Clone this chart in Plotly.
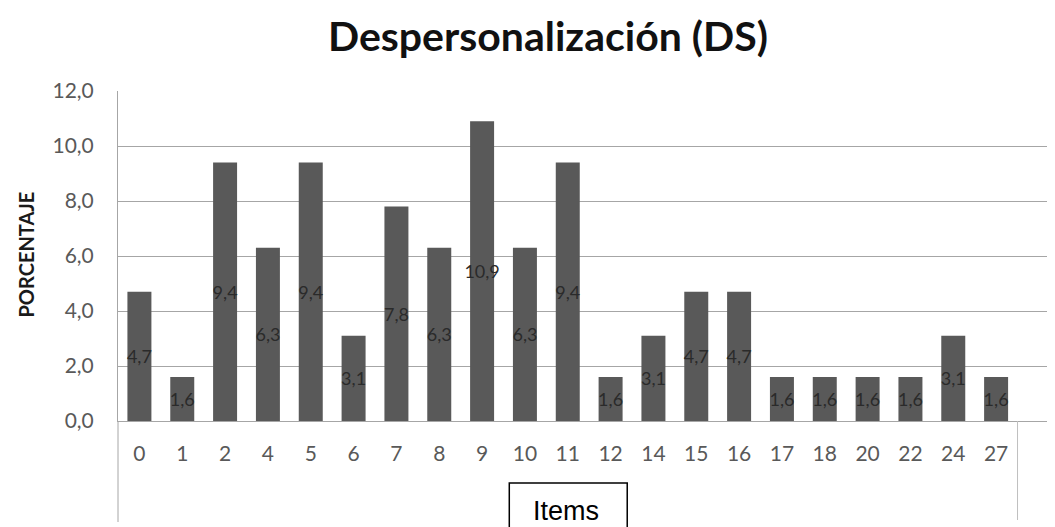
import plotly.graph_objects as go

categories = ["0", "1", "2", "4", "5", "6", "7", "8", "9", "10", "11",
              "12", "14", "15", "16", "17", "18", "20", "22", "24", "27"]
values = [4.7, 1.6, 9.4, 6.3, 9.4, 3.1, 7.8, 6.3, 10.9, 6.3, 9.4,
          1.6, 3.1, 4.7, 4.7, 1.6, 1.6, 1.6, 1.6, 3.1, 1.6]
y_ticks = [0, 2, 4, 6, 8, 10, 12]

title_text = "Despersonalización (DS)"
y_title = "PORCENTAJE"
x_title = "Items"

# the page body adds an 8px offset; size the figure so the window shows it all
OFF = 8
W, H = 1055 - OFF, 527 - OFF
AX_L, AX_R, AX_T, AX_B = 117.5, 1055, 91, 421   # window pixel positions
L, R, T, B = AX_L - OFF, 0, AX_T - OFF, H - (AX_B - OFF)

FONT = "Lato, Noto Sans, sans-serif"

fig = go.Figure()
fig.add_trace(go.Bar(
    x=categories, y=values,
    marker=dict(color="#595959", line=dict(width=0)),
    width=0.56,
    texttemplate="%{y:.1f}",
    textposition="inside",
    insidetextanchor="middle",
    constraintext="none",
    textangle=0,
    textfont=dict(family=FONT, size=18, color="#2a2a2a"),
    cliponaxis=False,
))

def px_x(px):
    return (px - AX_L) / (AX_R - AX_L)

def px_y(py):
    return (AX_B - py) / (AX_B - AX_T)

cat_w = (1017.5 - AX_L) / 21

fig.update_layout(
    width=W, height=H,
    margin=dict(l=L, r=R, t=T, b=B, autoexpand=False),
    paper_bgcolor="white", plot_bgcolor="white",
    separators=",.",
    showlegend=False,
    title=dict(text="<b>" + title_text + "</b>", x=(548 - OFF) / W, xanchor="center",
               y=1 - (37 - OFF) / H, yanchor="middle",
               font=dict(family=FONT, size=41, color="#111111")),
    xaxis=dict(type="category", range=[-0.5, -0.5 + (AX_R - AX_L) / cat_w],
               showgrid=False, showline=True, linecolor="#a6a6a6", linewidth=1,
               ticks="", ticklabelstandoff=14, automargin=False,
               tickfont=dict(family=FONT, size=21, color="#595959"),
               zeroline=False),
    yaxis=dict(range=[0, 12], tickvals=y_ticks, tickformat=".1f",
               showgrid=True, gridcolor="#a6a6a6", gridwidth=1,
               showline=True, linecolor="#a6a6a6", linewidth=1,
               ticks="", ticklabelstandoff=19, automargin=False,
               tickfont=dict(family=FONT, size=21, color="#595959"),
               zeroline=False),
    annotations=[
        dict(text="<b>" + y_title + "</b>", xref="paper", yref="paper",
             x=px_x(25), y=px_y(255), xanchor="center", yanchor="middle",
             textangle=-90, showarrow=False,
             font=dict(family=FONT, size=20, color="#1a1a1a")),
        dict(text=x_title, xref="paper", yref="paper",
             x=px_x(566), y=px_y(511), xanchor="center", yanchor="middle",
             showarrow=False,
             font=dict(family="Liberation Sans, Arial, sans-serif", size=27, color="#000000")),
    ],
    shapes=[
        dict(type="line", xref="paper", yref="paper", x0=0, x1=0, y0=0, y1=px_y(522),
             line=dict(color="#a6a6a6", width=1)),
        dict(type="line", xref="x", yref="paper", x0=20.5, x1=20.5, y0=0, y1=px_y(520),
             line=dict(color="#bfbfbf", width=1)),
        dict(type="rect", xref="paper", yref="paper",
             x0=px_x(509), x1=px_x(627), y0=px_y(483), y1=px_y(545),
             line=dict(color="#000000", width=1.5), fillcolor="rgba(0,0,0,0)"),
    ],
)

fig.write_html("out.html")
